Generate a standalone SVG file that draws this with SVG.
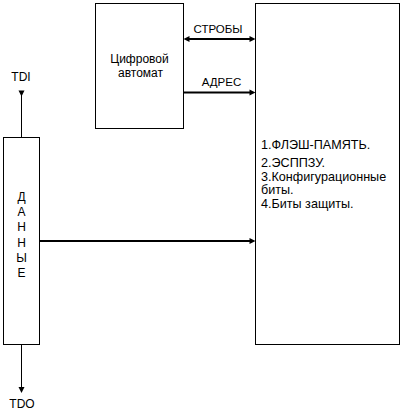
<svg xmlns="http://www.w3.org/2000/svg" width="403" height="411" viewBox="0 0 403 411">
<style>
text{font-family:"Liberation Sans",Arial,sans-serif;fill:#000}
.box{fill:#fff;stroke:#000;stroke-width:1}
.thick{stroke:#000;stroke-width:2;fill:none}
.thin{stroke:#000;stroke-width:1;fill:none}
.ah{fill:#000}
</style>
<rect width="403" height="411" fill="#fff"/>
<g id="automat">
<rect class="box" x="95.5" y="3.5" width="88" height="125"/>
<text x="139.5" y="63" font-size="12" text-anchor="middle">Цифровой</text>
<text x="140.5" y="77" font-size="12" text-anchor="middle">автомат</text>
</g>
<g id="memory">
<rect class="box" x="255.5" y="3.5" width="144" height="341"/>
<text font-size="12.6" x="261">
<tspan x="261" y="149">1.ФЛЭШ-ПАМЯТЬ.</tspan>
<tspan x="261" y="167">2.ЭСППЗУ.</tspan>
<tspan x="261" y="181">3.Конфигурационные</tspan>
<tspan x="261" y="194">биты.</tspan>
<tspan x="261" y="208">4.Биты защиты.</tspan>
</text>
</g>
<g id="data">
<rect class="box" x="3.5" y="137.5" width="36" height="207"/>
<g font-size="12" text-anchor="middle">
<text x="21.5" y="201">Д</text>
<text x="21.5" y="216">А</text>
<text x="21.5" y="231">Н</text>
<text x="21.5" y="247">Н</text>
<text x="21.5" y="262">Ы</text>
<text x="21.5" y="277">Е</text>
</g>
</g>
<g id="tdi">
<text x="21" y="81" font-size="12" text-anchor="middle">TDI</text>
</g>
<g id="tdo">
<text x="22" y="408" font-size="12" text-anchor="middle">TDO</text>
</g>
<g id="connectors">
<line class="thick" x1="188" y1="39" x2="250" y2="39"/>
<polygon class="ah" points="183.5,39 189.5,36 189.5,42"/>
<polygon class="ah" points="255.5,39 249.5,36 249.5,42"/>
<text x="218" y="33" font-size="11.5" text-anchor="middle">СТРОБЫ</text>
<line class="thick" x1="183.5" y1="92.5" x2="250" y2="92.5"/>
<polygon class="ah" points="255.5,92.5 249.5,89.5 249.5,95.5"/>
<text x="221.5" y="86" font-size="11.5" text-anchor="middle">АДРЕС</text>
<line class="thick" x1="39.5" y1="241" x2="250" y2="241"/>
<polygon class="ah" points="255.5,241 249.5,238 249.5,244"/>
<line class="thin" x1="21.5" y1="93" x2="21.5" y2="137.5"/>
<polygon class="ah" points="18.5,90.5 24.5,90.5 21.5,96.5"/>
<line class="thin" x1="21.5" y1="344.5" x2="21.5" y2="388"/>
<polygon class="ah" points="18.5,387 24.5,387 21.5,393"/>
</g>
</svg>
